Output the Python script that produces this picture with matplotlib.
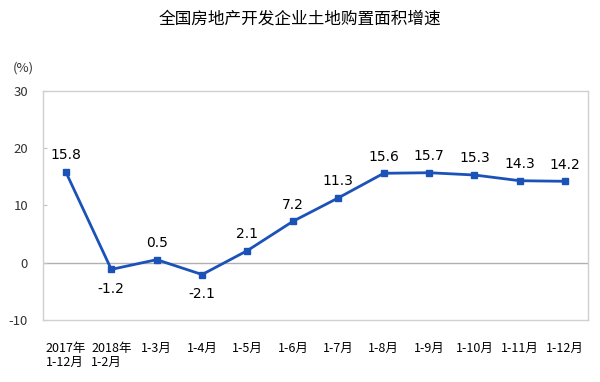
import matplotlib
matplotlib.use("Agg")
import matplotlib.pyplot as plt

plt.rcParams['font.family'] = ['Noto Sans CJK SC', 'DejaVu Sans']

labels = ["2017年\n1-12月", "2018年\n1-2月", "1-3月", "1-4月", "1-5月", "1-6月",
          "1-7月", "1-8月", "1-9月", "1-10月", "1-11月", "1-12月"]
values = [15.8, -1.2, 0.5, -2.1, 2.1, 7.2, 11.3, 15.6, 15.7, 15.3, 14.3, 14.2]
below = [False, True, False, True, False, False, False, False, False, False, False, False]

fig = plt.figure(figsize=(6, 3.82), dpi=100)
ax = fig.add_axes([0.072, 0.163, 0.908, 0.599])

x = list(range(len(values)))
ax.plot(x, values, color='#1a52b8', linewidth=2, marker='s', markersize=5,
        markerfacecolor='#1a52b8', markeredgecolor='#1a52b8', zorder=3)
ax.axhline(0, color='#b0b0b0', linewidth=1, zorder=1)

for xi, v, b in zip(x, values, below):
    if b:
        ax.annotate(f"{v}", (xi, v), xytext=(0, -9), textcoords='offset points',
                    ha='center', va='top', fontsize=10, family='DejaVu Sans')
    else:
        ax.annotate(f"{v}", (xi, v), xytext=(0, 7), textcoords='offset points',
                    ha='center', va='bottom', fontsize=10, family='DejaVu Sans')

ax.set_xlim(-0.5, len(values) - 0.5)
ax.set_ylim(-10, 30)
ax.set_yticks([-10, 0, 10, 20, 30])
ax.set_yticklabels(["-10", "0", "10", "20", "30"], fontsize=9.5, color='#333333')
ax.set_xticks(x)
ax.set_xticklabels(labels, fontsize=9, linespacing=1.05, multialignment='left')
ax.tick_params(axis='x', length=0, pad=16)
ax.tick_params(axis='y', length=3, direction='in', color='#c0c0c0', pad=11)
for s in ax.spines.values():
    s.set_color('#d0d0d0')
    s.set_linewidth(1)

fig.text(0.022, 0.822, "(%)", fontsize=9.5, ha='left', va='center', color='#333333')
fig.text(0.5, 0.95, "全国房地产开发企业土地购置面积增速", fontsize=12, ha='center', va='center')

fig.savefig("out.png", dpi=100)
